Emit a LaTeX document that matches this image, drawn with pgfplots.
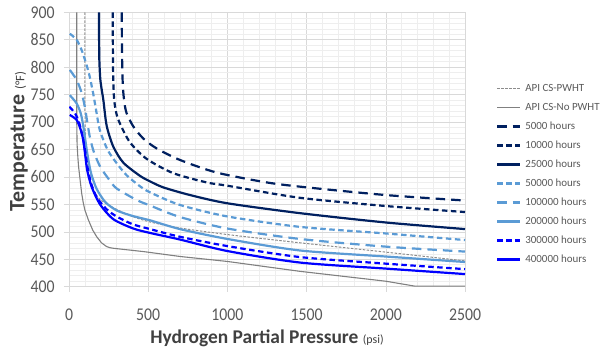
\documentclass[border=0pt]{standalone}
\usepackage{pgfplots}
\pgfplotsset{compat=1.18}
\usepackage{fontspec}
\setmainfont{Carlito}
\definecolor{navy}{RGB}{0,32,96}
\definecolor{lblue}{RGB}{91,155,213}
\definecolor{bblue}{RGB}{0,0,255}
\definecolor{gmaj}{RGB}{217,217,217}
\definecolor{gmin}{RGB}{238,238,238}
\definecolor{ticktxt}{RGB}{89,89,89}
\definecolor{labtxt}{RGB}{64,64,64}
\definecolor{gline}{RGB}{128,128,128}
\definecolor{gdot}{RGB}{140,140,140}
\begin{document}
\begin{tikzpicture}
\begin{axis}[
  scale only axis, width=396bp, height=274.4bp,
  xmin=0, xmax=2500, ymin=400, ymax=900,
  xtick={0,500,...,2500}, ytick={400,450,...,900},
  minor x tick num=4, minor y tick num=4,
  grid=both,
  major grid style={draw=gmaj, line width=0.6bp},
  minor grid style={draw=gmin, line width=0.5bp},
  axis line style={draw=gmaj, line width=0.6bp},
  tick align=outside, major tick length=5bp, minor tick length=0pt,
  tick style={draw=gmaj, line width=0.6bp},
  xtick pos=bottom, ytick pos=left,
  /pgf/number format/assume math mode=true,
  /pgf/number format/1000 sep={},
  xticklabel style={font=\fontsize{18}{18}\selectfont, xscale=0.88, text=ticktxt, inner sep=0pt, anchor=north, yshift=-17bp},
  yticklabel style={font=\fontsize{18}{18}\selectfont, xscale=0.88, text=ticktxt, inner sep=0pt, anchor=east, xshift=-10.5bp},
  xlabel={\bfseries Hydrogen Partial Pressure {\mdseries\fontsize{12}{12}\selectfont(psi)}},
  ylabel={\bfseries Temperature {\mdseries\fontsize{13}{13}\selectfont(°F)}},
  xlabel style={font=\fontsize{19.5}{19.5}\selectfont, text=labtxt, at={(axis description cs:0.5,0)}, anchor=base, yshift=-56.8bp},
  ylabel style={font=\fontsize{22}{22}\selectfont, text=labtxt, at={(axis description cs:-0.1124,0.529)}, anchor=base},
  legend style={draw=none, fill=none, font=\fontsize{11}{11}\selectfont, text=ticktxt,
    at={(axis description cs:1.078,0.743)}, anchor=north west,
    nodes={inner sep=0pt, text height=8bp, text depth=3bp},
    row sep=8bp, column sep=4bp, inner sep=0pt},
  legend cell align=left,
  legend image code/.code={\draw[#1] (0bp,0bp) -- (23bp,0bp);},
  every axis plot/.append style={smooth, tension=0.45},
]
% API CS-PWHT
\addplot[gdot, line width=1bp, dash pattern=on 2.5bp off 1.5bp] coordinates {(101,900)(101,720)(103,680)(106,655)(112,630)(125,603)(150,578)(200,558)(300,541)(400,528)(511,518)(700,507)(1000,495)(1458,480)(2000,463)(2500,447)};
\addlegendentry{API CS-PWHT}
% API CS-No PWHT
\addplot[gline, line width=1.1bp, sharp plot] coordinates {(49,900)(49,700)(51,660)(55,640)(60,620)(68,600)(80,570)(90,553)(100,540)(122,522)(150,503)(175,491)(205,480)(238,473)(260,471)(280,470)(470,464)(703,455)(1000,446)(1458,428)(2000,410)(2184,401)(2500,401)};
\addlegendentry{API CS-No PWHT}
% 5000
\addplot[navy, line width=2.2bp, dash pattern=on 9.5bp off 6bp] coordinates {(333,900)(335,820)(340,765)(350,735)(364,716)(406,692)(469,670)(553,652)(700,631)(932,608)(1248,590)(1500,581)(2000,567)(2500,557)};
\addlegendentry{5000 hours}
% 10000
\addplot[navy, line width=2.2bp, dash pattern=on 5.5bp off 3.5bp] coordinates {(276,900)(278,800)(284,745)(298,717)(322,697)(385,663)(490,633)(657,607)(869,590)(1000,584)(1458,562)(2000,547)(2500,536)};
\addlegendentry{10000 hours}
% 25000
\addplot[navy, line width=2.2bp] coordinates {(189,900)(191,820)(197,780)(206,760)(217,740)(238,693)(280,655)(343,626)(448,602)(511,592)(595,581)(764,567)(1000,552)(1458,534)(2000,517)(2500,505)};
\addlegendentry{25000 hours}
% 50000
\addplot[lblue, line width=2.2bp, dash pattern=on 5.5bp off 3.5bp] coordinates {(5,861)(48,850)(80,831)(112,803)(133,780)(154,750)(175,715)(192,688)(220,665)(250,646)(301,625)(364,603)(448,583)(511,572)(700,549)(1000,528)(1458,509)(2000,497)(2500,485)};
\addlegendentry{50000 hours}
% 100000
\addplot[lblue, line width=2.2bp, dash pattern=on 9.5bp off 6bp] coordinates {(5,795)(48,777)(80,753)(101,726)(118,695)(135,668)(160,643)(200,617)(259,593)(301,579)(427,558)(511,548)(700,527)(1000,506)(1458,487)(2000,473)(2500,464)};
\addlegendentry{100000 hours}
% 200000
\addplot[lblue, line width=2.2bp] coordinates {(5,749)(48,734)(74,716)(90,693)(105,663)(120,635)(140,606)(175,578)(230,554)(301,539)(400,529)(511,521)(700,505)(1000,487)(1458,466)(2000,455)(2500,445)};
\addlegendentry{200000 hours}
% 300000
\addplot[bblue, line width=2.2bp, dash pattern=on 5.5bp off 3.5bp] coordinates {(2,728)(38,716)(65,698)(86,673)(101,649)(118,616)(140,588)(175,563)(238,541)(300,528)(400,514)(511,505)(700,491)(1000,474)(1458,454)(2000,442)(2500,432)};
\addlegendentry{300000 hours}
% 400000
\addplot[bblue, line width=2.2bp] coordinates {(5,713)(48,704)(74,686)(90,667)(101,643)(115,612)(143,582)(196,550)(280,523)(406,506)(511,498)(700,486)(1000,465)(1458,444)(2000,433)(2500,423)};
\addlegendentry{400000 hours}
\end{axis}
\pgfresetboundingbox
\useasboundingbox (-69bp,-62.3bp) rectangle (531bp,286.7bp);
\end{tikzpicture}
\end{document}
